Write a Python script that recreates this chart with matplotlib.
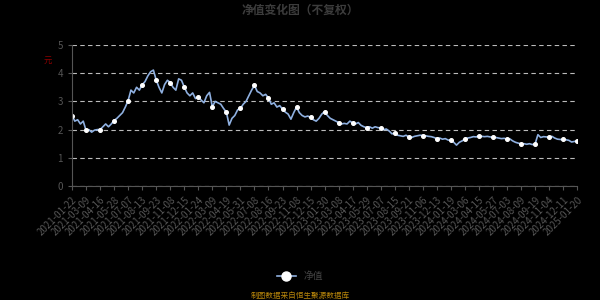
import numpy as np
import matplotlib
matplotlib.use("Agg")
import matplotlib.pyplot as plt

plt.rcParams['font.family'] = ['Noto Sans CJK SC', 'DejaVu Sans']

# tick dates (one every 5 points)
tick_labels = ['2021-01-22', '2021-03-09', '2021-04-16', '2021-05-28', '2021-07-07',
               '2021-08-13', '2021-09-23', '2021-11-08', '2021-12-15', '2022-01-24',
               '2022-03-09', '2022-04-19', '2022-05-31', '2022-07-08', '2022-08-16',
               '2022-09-23', '2022-11-08', '2022-12-15', '2023-01-30', '2023-03-08',
               '2023-04-17', '2023-05-29', '2023-07-07', '2023-08-15', '2023-09-21',
               '2023-11-06', '2023-12-13', '2024-01-19', '2024-03-06', '2024-04-15',
               '2024-05-27', '2024-07-03', '2024-08-09', '2024-09-19', '2024-11-04',
               '2024-12-11', '2025-01-20']

# net value, each row starts at a tick date
nav = [2.50, 2.30, 2.35, 2.20, 2.30,
       1.97, 2.00, 1.91, 1.98, 2.00,
       2.00, 2.10, 2.20, 2.10, 2.20,
       2.32, 2.40, 2.50, 2.60, 2.80,
       3.03, 3.40, 3.30, 3.50, 3.40,
       3.59, 3.70, 3.90, 4.05, 4.11,
       3.76, 3.50, 3.30, 3.60, 3.75,
       3.67, 3.50, 3.40, 3.80, 3.75,
       3.51, 3.30, 3.20, 3.30, 3.10,
       3.16, 3.05, 2.95, 3.20, 3.32,
       2.81, 3.00, 2.95, 2.90, 2.75,
       2.62, 2.16, 2.40, 2.50, 2.70,
       2.75, 2.90, 3.00, 3.20, 3.40,
       3.57, 3.35, 3.30, 3.20, 3.25,
       3.12, 2.90, 2.95, 2.80, 2.85,
       2.73, 2.62, 2.55, 2.37, 2.60,
       2.80, 2.60, 2.50, 2.45, 2.48,
       2.43, 2.35, 2.30, 2.40, 2.55,
       2.64, 2.50, 2.40, 2.35, 2.30,
       2.25, 2.20, 2.22, 2.20, 2.30,
       2.24, 2.20, 2.25, 2.15, 2.10,
       2.07, 2.10, 2.05, 2.10, 2.07,
       2.06, 2.00, 2.02, 1.95, 1.85,
       1.88, 1.80, 1.78, 1.76, 1.80,
       1.74, 1.72, 1.76, 1.78, 1.80,
       1.79, 1.78, 1.76, 1.75, 1.72,
       1.68, 1.70, 1.66, 1.68, 1.63,
       1.62, 1.55, 1.45, 1.55, 1.60,
       1.66, 1.70, 1.72, 1.75, 1.74,
       1.78, 1.76, 1.75, 1.76, 1.74,
       1.73, 1.72, 1.70, 1.68, 1.69,
       1.66, 1.67, 1.60, 1.55, 1.52,
       1.49, 1.50, 1.48, 1.50, 1.47,
       1.49, 1.82, 1.72, 1.75, 1.74,
       1.73, 1.76, 1.70, 1.66, 1.65,
       1.65, 1.64, 1.62, 1.56, 1.58,
       1.60]

step = 5
x = np.arange(len(nav))

fig = plt.figure(figsize=(6, 3), dpi=100, facecolor='black')
ax = fig.add_axes([0.12, 0.38, 0.842, 0.47], facecolor='black')

line, = ax.plot(x, nav, color='#8fb0e0', lw=1.2, marker='o', markevery=step,
                markersize=2.6, markerfacecolor='white', markeredgecolor='white',
                label='净值')

ax.set_xlim(0, len(nav) - 1)
ax.set_ylim(0, 5)
ax.set_yticks(range(6))
ax.grid(axis='y', color='#bbbbbb', linestyle=(0, (4, 3)), lw=0.8)
ax.set_axisbelow(True)

ticks = x[::step]
ax.set_xticks(ticks)
ax.set_xticklabels(tick_labels[:len(ticks)], rotation=45, ha='right',
                   rotation_mode='anchor', fontsize=7, color='#444444')
ax.tick_params(axis='y', labelsize=7, colors='#555555', length=3)
ax.tick_params(axis='x', colors='#555555', length=3)
for sp in ['top', 'right']:
    ax.spines[sp].set_visible(False)
for sp in ['left', 'bottom']:
    ax.spines[sp].set_color('#555555')

fig.text(0.5, 0.965, '净值变化图（不复权）', ha='center', va='center',
         fontsize=8.5, fontweight='bold', color='#3c3c3c')
fig.text(0.08, 0.80, '元', ha='center', va='center', fontsize=6, color='#8b0000')

leg = fig.legend(handles=[line], loc='center', bbox_to_anchor=(0.5, 0.08),
                 frameon=False, fontsize=7, labelcolor='#444444',
                 handlelength=2, markerscale=2.5)
fig.text(0.5, 0.015, '制图数据来自恒生聚源数据库', ha='center', va='center',
         fontsize=5.5, color='#b8860b')

fig.savefig('out.png', dpi=100, facecolor='black')
